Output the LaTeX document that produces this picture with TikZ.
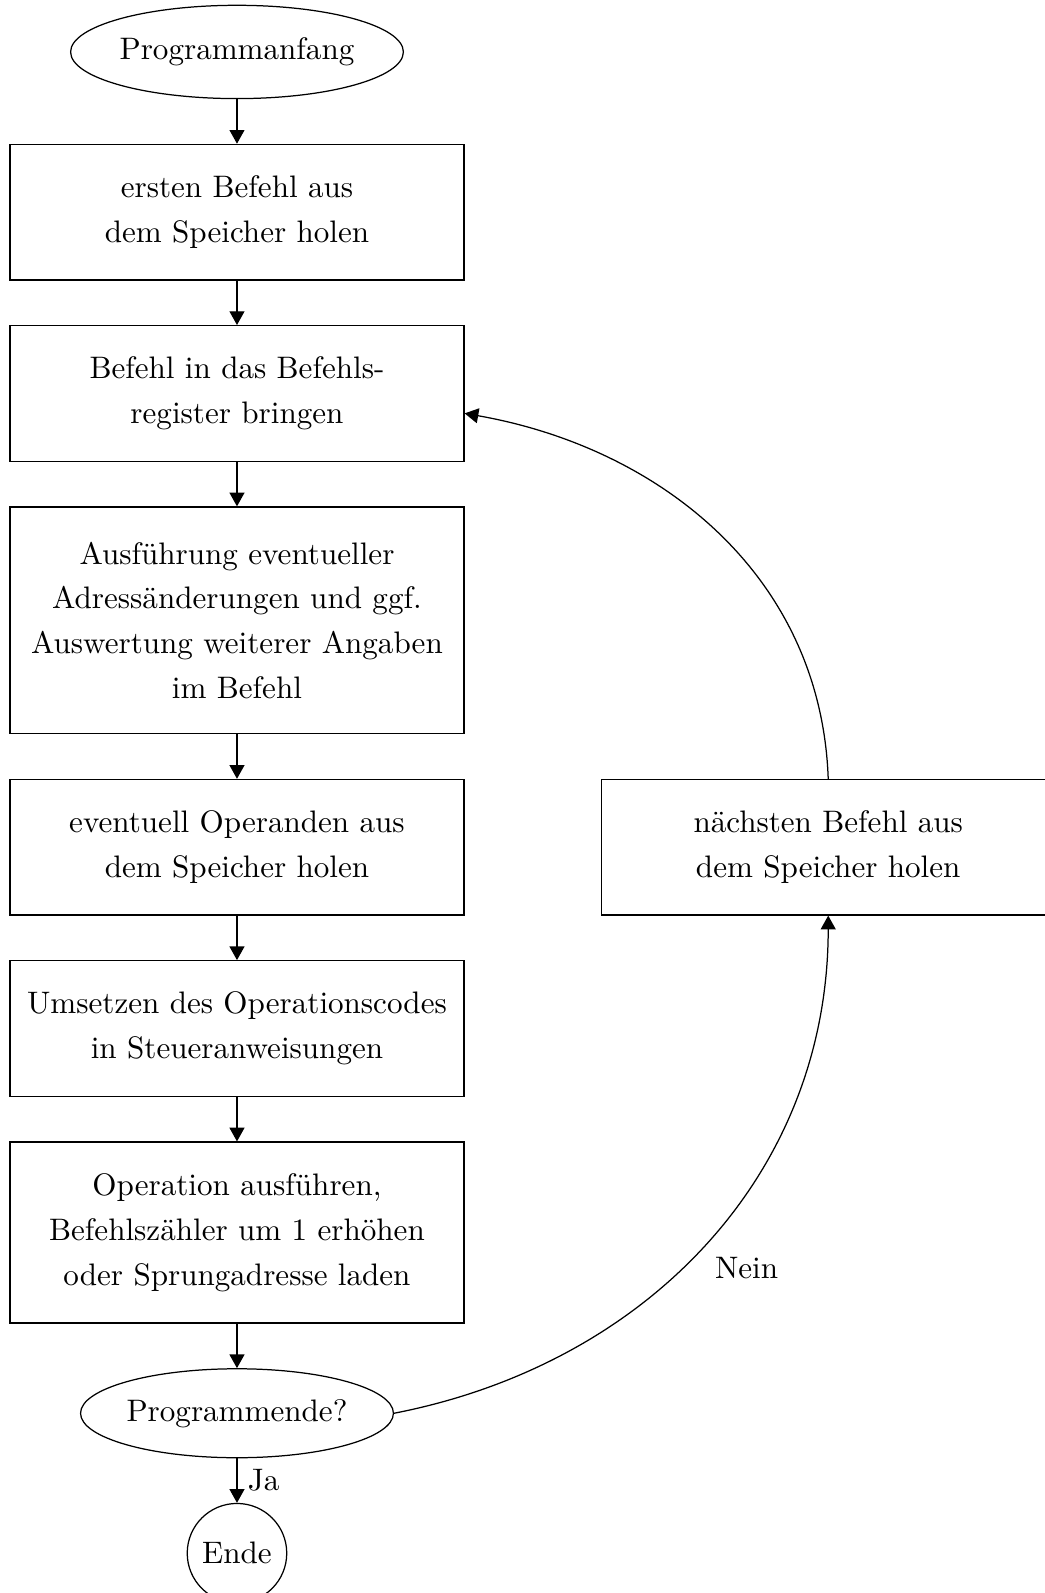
\documentclass[tikz,border=0pt]{standalone}
\usepackage{tikz}
\usetikzlibrary{positioning,shapes.geometric,arrows.meta}
\tikzset{startnode/.style={ellipse, draw, minimum width=107pt, minimum height=30pt, inner sep=0pt},
stepnode/.style={rectangle, draw, text width=140pt, align=center, inner xsep=3pt, inner ysep=2pt, minimum height=43.6pt, font={\fontsize{10pt}{14.4pt}\selectfont}},
endnode/.style={circle, draw, minimum size=32pt, inner sep=0pt},}

\begin{document}
\begin{tikzpicture}[node distance=14.3pt, >={Triangle[width=4.8pt,length=4.4pt]}]
\useasboundingbox (-76.2pt,16.7pt) rectangle (259.8pt,-495.5pt);
\node [startnode] (start) at (0,0) {Programmanfang};
\node [stepnode] (holen) [below=of start] {ersten Befehl aus\\dem Speicher holen};
\node [stepnode] (register) [below=of holen] {Befehl in das Befehls-\\register bringen};
\node [stepnode, minimum height=72.9pt] (adresse) [below=of register] {Ausführung eventueller\\Adressänderungen und ggf.\\Auswertung weiterer Angaben\\im Befehl};
\node [stepnode] (operanden) [below=of adresse] {eventuell Operanden aus\\dem Speicher holen};
\node [stepnode] (umsetzen) [below=of operanden] {Umsetzen des Operationscodes\\in Steueranweisungen};
\node [stepnode, minimum height=58.2pt] (ausfuehren) [below=of umsetzen] {Operation ausführen,\\Befehlszähler um 1 erhöhen\\oder Sprungadresse laden};
\node [startnode, minimum width=100.6pt, minimum height=28.6pt] (frage) [below=of ausfuehren] {Programmende?};
\node [endnode] (ende) [below=of frage] {Ende};
\node [stepnode] (naechster) [right=43.7pt of operanden] {nächsten Befehl aus\\dem Speicher holen};
\draw [->] (start) -- (holen);
\draw [->] (holen) -- (register);
\draw [->] (register) -- (adresse);
\draw [->] (adresse) -- (operanden);
\draw [->] (operanden) -- (umsetzen);
\draw [->] (umsetzen) -- (ausfuehren);
\draw [->] (ausfuehren) -- (frage);
\draw [->] (frage) -- node[right] {Ja} (ende);
\draw [->] (frage.east) to[out=11, in=-90] node[pos=0.45, right=7pt] {Nein} (naechster.south);
\draw [->] (naechster.north) to[out=92, in=-10] (register.-5.7);
\end{tikzpicture}
\end{document}
